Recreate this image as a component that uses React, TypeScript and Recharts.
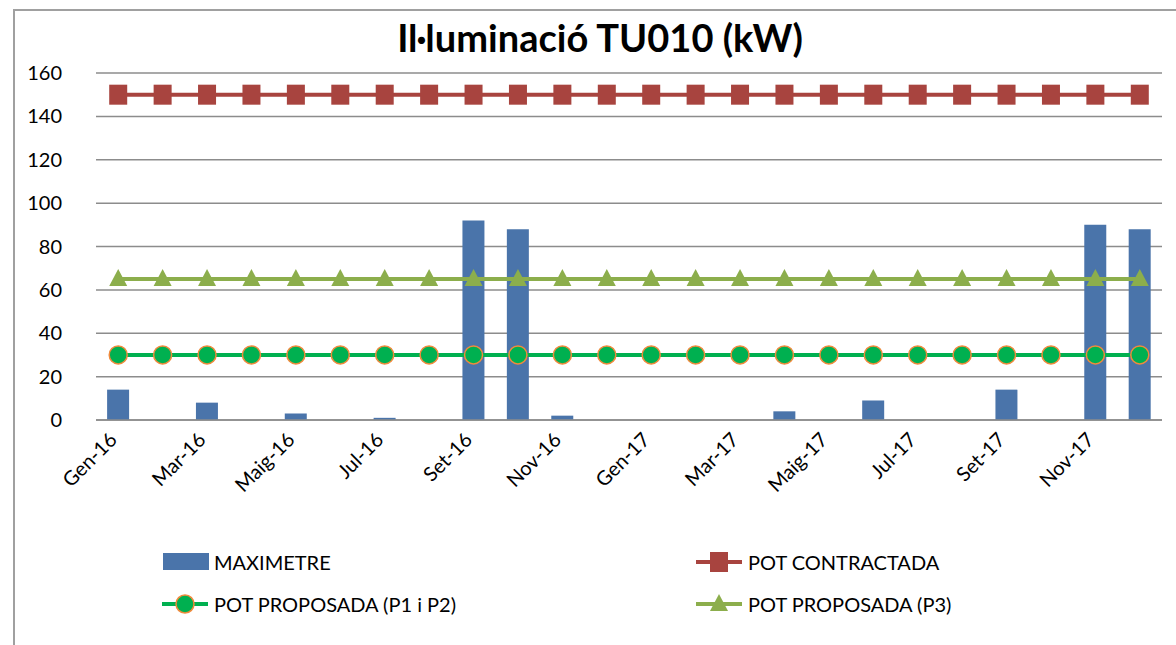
import { ComposedChart, Bar, Line, XAxis, YAxis, CartesianGrid } from "recharts";

// months Gen-16 .. Des-17
const months = [
  "Gen-16", "Feb-16", "Mar-16", "Abr-16", "Maig-16", "Jun-16", "Jul-16", "Ago-16",
  "Set-16", "Oct-16", "Nov-16", "Des-16", "Gen-17", "Feb-17", "Mar-17", "Abr-17",
  "Maig-17", "Jun-17", "Jul-17", "Ago-17", "Set-17", "Oct-17", "Nov-17", "Des-17",
];
const maximetre = [14, 0, 8, 0, 3, 0, 1, 0, 92, 88, 2, 0, 0, 0, 0, 4, 0, 9, 0, 0, 14, 0, 90, 88];
const potContractada = [150, 150, 150, 150, 150, 150, 150, 150, 150, 150, 150, 150, 150, 150, 150, 150, 150, 150, 150, 150, 150, 150, 150, 150];
const potP1P2 = [30, 30, 30, 30, 30, 30, 30, 30, 30, 30, 30, 30, 30, 30, 30, 30, 30, 30, 30, 30, 30, 30, 30, 30];
const potP3 = [65, 65, 65, 65, 65, 65, 65, 65, 65, 65, 65, 65, 65, 65, 65, 65, 65, 65, 65, 65, 65, 65, 65, 65];
const yTicks = [0, 20, 40, 60, 80, 100, 120, 140, 160];

const C = {
  bar: "#4A74AA",
  red: "#A8443F",
  green: "#00B050",
  orange: "#F08A3C",
  olive: "#8CAE4C",
  grid: "#8C8C8C",
};
const FONT = "Lato, 'Open Sans', sans-serif";

const data = months.map((m, i) => ({
  m,
  maximetre: maximetre[i],
  contractada: potContractada[i],
  p12: potP1P2[i],
  p3: potP3[i],
}));

const Square = (p: any) => (
  <rect x={p.cx - 9} y={p.cy - 10} width={18} height={20} fill={C.red} />
);
const Circle = (p: any) => (
  <circle cx={p.cx} cy={p.cy} r={9} fill={C.green} stroke={C.orange} strokeWidth={1.5} />
);
const Tri = (p: any) => (
  <polygon points={`${p.cx},${p.cy - 10} ${p.cx + 9},${p.cy + 7} ${p.cx - 9},${p.cy + 7}`} fill={C.olive} />
);

// rotated month label, its end tucked just under the category
const renderXTick = (p: any) => (
  <g transform={`translate(${p.x},${p.y + 13})`}>
    <text transform="rotate(-45)" textAnchor="end" fontSize={20} fontFamily={FONT} fill="#000">
      {p.payload.value}
    </text>
  </g>
);

const renderYTick = (p: any) => (
  <text x={62} y={p.y} dy={7} textAnchor="end" fontSize={20} fontFamily={FONT} fill="#000">
    {p.payload.value}
  </text>
);

function LegendItem({ icon, label, x, y }: { icon: any; label: string; x: number; y: number }) {
  return (
    <div style={{ position: "absolute", left: x, top: y, display: "flex", alignItems: "center" }}>
      <svg width={50} height={24} style={{ marginRight: 4 }}>{icon}</svg>
      <span style={{ fontFamily: FONT, fontSize: 20, color: "#000" }}>{label}</span>
    </div>
  );
}

export default function App() {
  return (
    <div style={{ position: "absolute", left: 0, top: 0, width: 1176, height: 645, background: "#fff" }}>
      <div
        style={{
          position: "absolute", left: 13, top: 9, width: 1170, height: 650,
          border: "2px solid #A0A0A0", boxSizing: "border-box",
        }}
      />
      <div
        style={{
          position: "absolute", left: 0, top: 14, width: 1200, textAlign: "center",
          fontFamily: FONT, fontWeight: 700, fontSize: 38, color: "#000",
        }}
      >
        Il·luminació TU010 (kW)
      </div>
      <ComposedChart
        width={1176}
        height={645}
        data={data}
        margin={{ top: 73, right: 14, bottom: 0, left: 0 }}
        barCategoryGap="25%"
        style={{ position: "absolute", left: 0, top: 0 }}
      >
        <CartesianGrid vertical={false} stroke={C.grid} strokeWidth={1.5} />
        <XAxis
          dataKey="m"
          interval={1}
          height={225}
          tick={renderXTick}
          tickLine={false}
          axisLine={{ stroke: C.grid, strokeWidth: 1.5 }}
        />
        <YAxis
          domain={[0, 160]}
          ticks={yTicks}
          width={96}
          axisLine={false}
          tickLine={false}
          tick={renderYTick}
        />
        <Bar dataKey="maximetre" fill={C.bar} isAnimationActive={false} />
        <Line dataKey="contractada" stroke={C.red} strokeWidth={4} dot={<Square />} activeDot={false} isAnimationActive={false} />
        <Line dataKey="p3" stroke={C.olive} strokeWidth={4} dot={<Tri />} activeDot={false} isAnimationActive={false} />
        <Line dataKey="p12" stroke={C.green} strokeWidth={4} dot={<Circle />} activeDot={false} isAnimationActive={false} />
      </ComposedChart>
      <LegendItem
        x={160} y={550} label="MAXIMETRE"
        icon={<rect x={3} y={3} width={46} height={17} fill={C.bar} />}
      />
      <LegendItem
        x={694} y={550} label="POT CONTRACTADA"
        icon={<g><line x1={2} y1={12} x2={48} y2={12} stroke={C.red} strokeWidth={4} /><rect x={16} y={2} width={18} height={20} fill={C.red} /></g>}
      />
      <LegendItem
        x={160} y={592} label="POT PROPOSADA (P1 i P2)"
        icon={<g><line x1={2} y1={12} x2={48} y2={12} stroke={C.green} strokeWidth={4} /><circle cx={25} cy={12} r={9} fill={C.green} stroke={C.orange} strokeWidth={1.5} /></g>}
      />
      <LegendItem
        x={694} y={592} label="POT PROPOSADA (P3)"
        icon={<g><line x1={2} y1={12} x2={48} y2={12} stroke={C.olive} strokeWidth={4} /><polygon points="25,2 34,19 16,19" fill={C.olive} /></g>}
      />
    </div>
  );
}
